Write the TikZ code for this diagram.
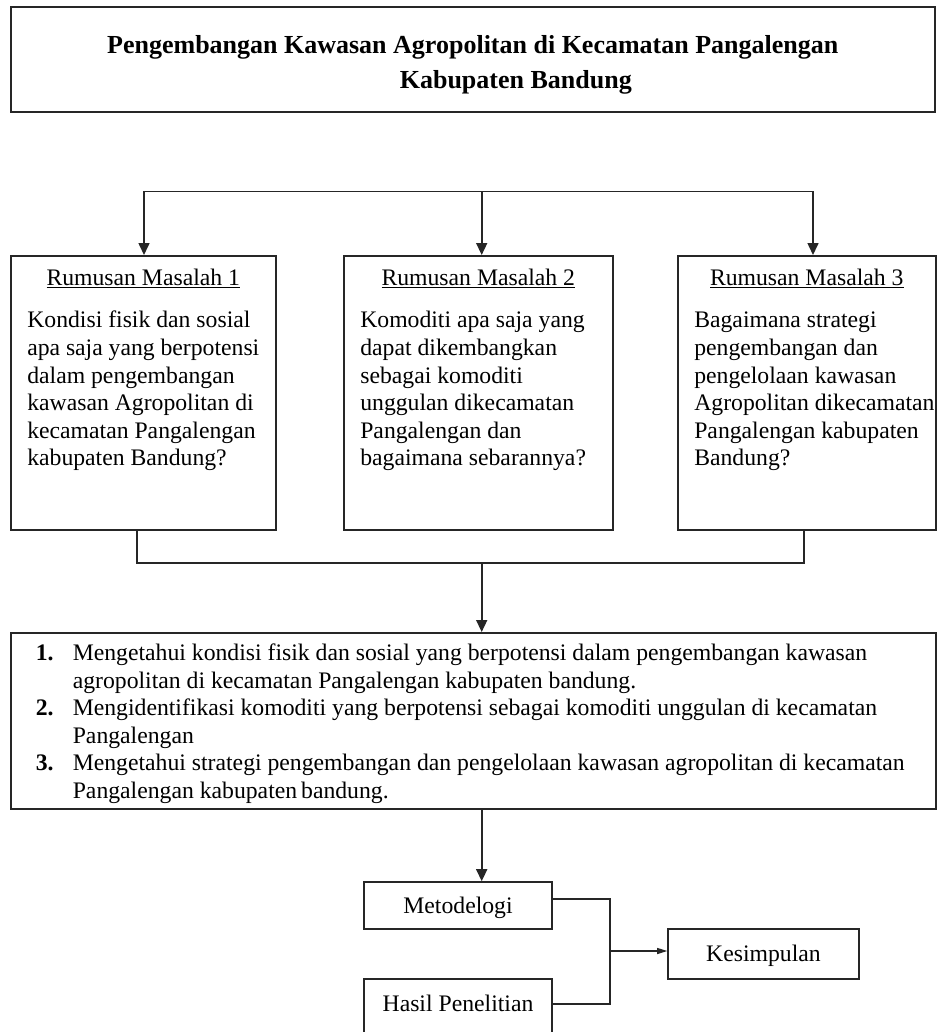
\documentclass[tikz,border=0pt]{standalone}
\usepackage{fontspec}
\setmainfont{Liberation Serif}
\usetikzlibrary{arrows.meta,calc}
\newcommand{\bodyfont}{\fontsize{23.7pt}{27.6pt}\selectfont}
\tikzset{
  ln/.style={draw=black!85, line width=1.6pt},
  arr/.style={ln, -{Triangle[length=12pt,width=11pt]}},
  sarr/.style={draw=black!85, line width=1.1pt, -{Triangle[length=10pt,width=6pt]}},
  thinln/.style={draw=black!85, line width=1.1pt},
  boxnode/.style={draw=black!85, line width=1.6pt, rectangle, inner sep=0pt, font=\bodyfont},
  smallbox/.style={boxnode, text height=20.4pt, text depth=4.7pt},
}
\begin{document}
\begin{tikzpicture}[x=1pt,y=1pt]
\useasboundingbox (0,0) rectangle (937,-1032);
\clip (0,0) rectangle (937,-1032);
\fill[white] (0,0) rectangle (937,-1032);

% title
\node[boxnode, anchor=north west, inner xsep=10pt, inner ysep=22.5pt] (title) at (10,-6)
 {\parbox[t][60pt][t]{904pt}{\fontsize{26pt}{35pt}\selectfont\bfseries\centering\strut Pengembangan Kawasan Agropolitan di Kecamatan Pangalengan\\\hspace*{86pt}Kabupaten Bandung\par}};

% rumusan masalah
\node[boxnode, anchor=north west, inner xsep=16.5pt, inner ysep=10.7pt] (r1) at (10,-255)
 {\parbox[t][252.6pt][t]{232pt}{\bodyfont\centering\strut\underline{Rumusan Masalah 1}\par\vspace{14.4pt}\raggedright
 Kondisi fisik dan sosial\\apa saja yang berpotensi\\dalam pengembangan\\kawasan Agropolitan di\\kecamatan Pangalengan\\kabupaten Bandung?\par}};
\node[boxnode, anchor=north west, inner xsep=16.5pt, inner ysep=10.7pt] (r2) at (343,-255)
 {\parbox[t][252.6pt][t]{236pt}{\bodyfont\centering\strut\underline{Rumusan Masalah 2}\par\vspace{14.4pt}\raggedright
 Komoditi apa saja yang\\dapat dikembangkan\\sebagai komoditi\\unggulan dikecamatan\\Pangalengan dan\\bagaimana sebarannya?\par}};
\node[boxnode, anchor=north west, inner xsep=16.5pt, inner ysep=10.7pt] (r3) at (677,-255)
 {\parbox[t][252.6pt][t]{225pt}{\bodyfont\centering\strut\underline{Rumusan Masalah 3}\par\vspace{14.4pt}\raggedright
 Bagaimana strategi\\pengembangan dan\\pengelolaan kawasan\\\mbox{Agropolitan dikecamatan}\\\mbox{Pangalengan kabupaten}\\Bandung?\par}};

% tujuan
\node[boxnode, anchor=north west, inner xsep=25pt, inner ysep=8.75pt] (obj) at (10,-632)
 {\parbox[t][158.5pt][t]{875pt}{\fontsize{23.7pt}{27.5pt}\selectfont\raggedright\strut
 \makebox[37pt][l]{\textbf{1.}}Mengetahui kondisi fisik dan sosial yang berpotensi dalam pengembangan kawasan\\
 \hspace*{37pt}agropolitan di kecamatan Pangalengan kabupaten bandung.\\
 \makebox[37pt][l]{\textbf{2.}}Mengidentifikasi komoditi yang berpotensi sebagai komoditi unggulan di kecamatan\\
 \hspace*{37pt}Pangalengan\\
 \makebox[37pt][l]{\textbf{3.}}Mengetahui strategi pengembangan dan pengelolaan kawasan agropolitan di kecamatan\\
 \hspace*{37pt}Pangalengan kabupaten\,bandung.\par}};

% bottom boxes
\node[smallbox, minimum width=188pt, minimum height=47pt] (met) at (458,-905.5) {Metodelogi};
\node[smallbox, minimum width=191pt, minimum height=50pt] (kes) at (763.5,-954) {Kesimpulan};
\node[boxnode, minimum width=188pt, minimum height=62pt, text height=14.2pt, text depth=10.9pt] (has) at (458,-1010) {Hasil Penelitian};

% top distribution
\coordinate (a1) at (144,-191.5);
\coordinate (a2) at (481.7,-191.5);
\coordinate (a3) at (813,-191.5);
\draw[ln] (a1) -- (a3);
\draw[arr] (a1) -- (a1 |- r1.north);
\draw[arr] (a2) -- (a2 |- r2.north);
\draw[arr] (a3) -- (a3 |- r3.north);

% bracket
\coordinate (b1) at (137,-563);
\coordinate (bm) at (481.7,-563);
\coordinate (b3) at (804,-563);
\draw[ln] (b1 |- r1.south) -- (b1) -- (b3) -- (b3 |- r3.south);
\draw[arr] (bm) -- (bm |- obj.north);

% to metodelogi
\coordinate (c1) at (481.7,-808);
\draw[arr] (c1 |- obj.south) -- (c1 |- met.north);

% join to kesimpulan
\coordinate (jt) at (610,-899);
\coordinate (j) at (610,-951);
\coordinate (jb) at (610,-1004);
\draw[thinln] (met.east |- jt) -- (jt) -- (jb) -- (has.east |- jb);
\draw[sarr] (j) -- (kes.west |- j);
\end{tikzpicture}
\end{document}
